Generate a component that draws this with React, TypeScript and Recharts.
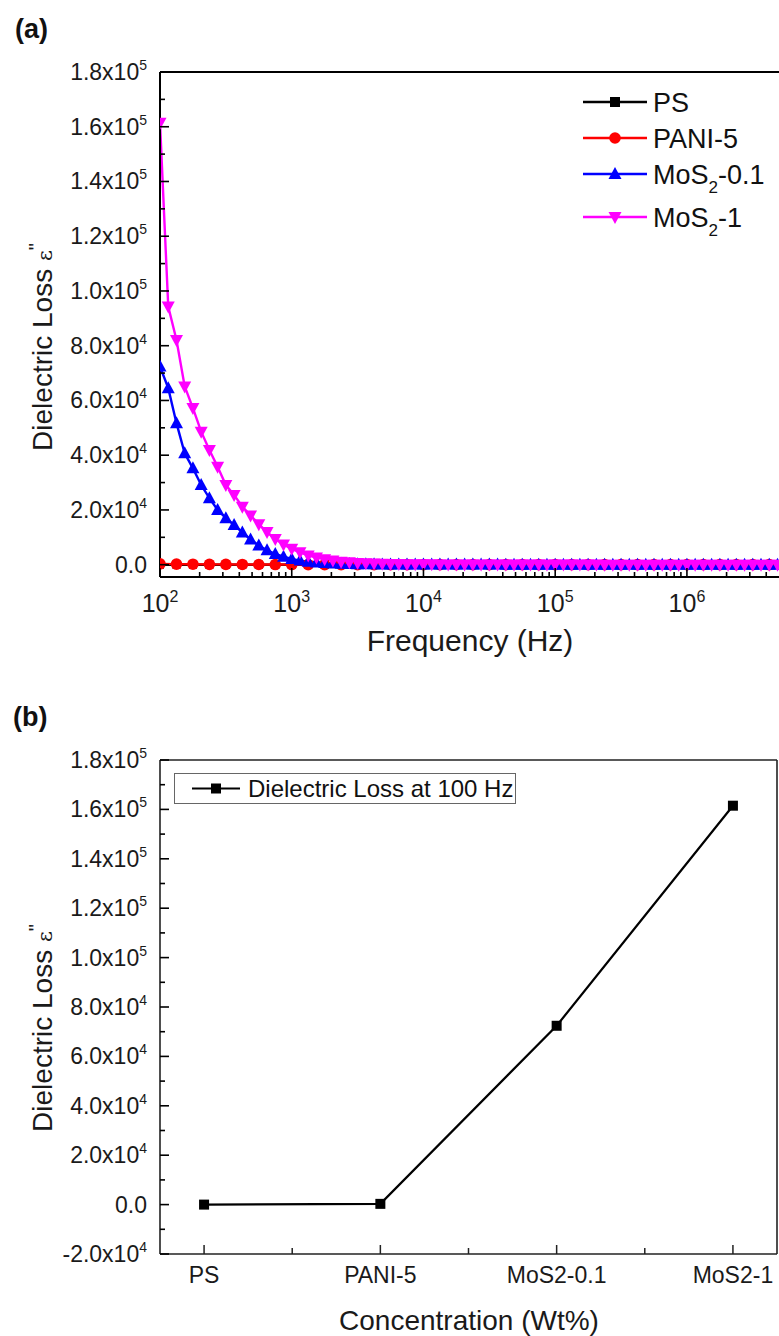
import React from 'react';
import { LineChart, Line, XAxis, YAxis, Legend } from 'recharts';

const FONT = 'Arial, "Liberation Sans", Helvetica, sans-serif';

// ---- (a) dielectric loss vs frequency ----
// 16 points per decade, 100 Hz .. ~4.9 MHz
const freqHz = [
  100, 115.5, 133.4, 154.0, 177.8, 205.4, 237.1, 273.8, 316.2, 365.2, 421.7, 487.0, 562.3, 649.4, 749.9, 866.0,
  1000, 1155, 1334, 1540, 1778, 2054, 2371, 2738, 3162, 3652, 4217, 4870, 5623, 6494, 7499, 8660,
  10000, 11548, 13335, 15399, 17783, 20535, 23714, 27384, 31623, 36517, 42170, 48697, 56234, 64938, 74989, 86596,
  100000, 115478, 133352, 153993, 177828, 205353, 237137, 273842, 316228, 365174, 421697, 486968, 562341, 649382, 749894, 865964,
  1000000, 1154782, 1333521, 1539927, 1778279, 2053525, 2371374, 2738420, 3162278, 3651741, 4216965, 4869675,
];

const mos2_01Loss = [
  72400, 64500, 51700, 40700, 35200, 29100, 24300, 20000, 17000, 14500, 11800, 9200, 7000, 5300, 3900, 2900,
  2100, 1500, 1100, 800, 600, 450, 340, 260, 200, 160, 130, 105, 88, 75, 64, 56,
  49, 44, 40, 36, 33, 30, 28, 26, 24, 22, 20, 19, 18, 17, 16, 15,
  14, 13, 12, 12, 11, 10, 10, 9, 9, 8, 8, 7, 7, 7, 6, 6,
  6, 5, 5, 5, 5, 4, 4, 4, 4, 3, 3, 3,
];

const mos2_1Loss = [
  161500, 94300, 82100, 65100, 57200, 48600, 41900, 35800, 29100, 25500, 21200, 18000, 14800, 11900, 9400, 7400,
  5800, 4500, 3400, 2600, 2000, 1500, 1100, 850, 650, 500, 400, 320, 260, 215, 180, 155,
  135, 120, 108, 97, 88, 80, 73, 67, 61, 56, 51, 47, 43, 40, 37, 34,
  32, 30, 28, 26, 24, 22, 21, 19, 18, 17, 16, 15, 14, 13, 12, 11,
  11, 10, 10, 9, 9, 8, 8, 7, 7, 6, 6, 5,
];

// PS / PANI-5 markers sit twice as far apart
const freqHzSparse = [
  100, 133.4, 177.8, 237.1, 316.2, 421.7, 562.3, 749.9,
  1000, 1334, 1778, 2371, 3162, 4217, 5623, 7499,
  10000, 13335, 17783, 23714, 31623, 42170, 56234, 74989,
  100000, 133352, 177828, 237137, 316228, 421697, 562341, 749894,
  1000000, 1333521, 1778279, 2371374, 3162278, 4216965,
];

const psLoss = [
  0, 0, 0, 0, 0, 0, 0, 0, 0, 0, 0, 0, 0, 0, 0, 0, 0, 0, 0,
  0, 0, 0, 0, 0, 0, 0, 0, 0, 0, 0, 0, 0, 0, 0, 0, 0, 0, 0,
];

const pani5Loss = [
  300, 220, 170, 130, 100, 80, 65, 55, 45, 38, 32, 28, 24, 21, 18, 16, 14, 12, 11,
  10, 9, 8, 7, 7, 6, 6, 5, 5, 5, 4, 4, 4, 4, 3, 3, 3, 3, 3,
];

const freqDecades = [100, 1000, 10000, 100000, 1000000];
const freqMinorSteps = [2, 3, 4, 5, 6, 7, 8, 9];
const lossTicksA = [
  0, 10000, 20000, 30000, 40000, 50000, 60000, 70000, 80000, 90000,
  100000, 110000, 120000, 130000, 140000, 150000, 160000, 170000, 180000,
];

// ---- (b) dielectric loss at 100 Hz ----
const concLabels = ['PS', 'PANI-5', 'MoS2-0.1', 'MoS2-1'];
const lossAt100Hz = [0, 300, 72400, 161500];
const concTicks = [1, 1.5, 2, 2.5, 3, 3.5, 4];
const lossTicksB = [
  -20000, -10000, 0, 10000, 20000, 30000, 40000, 50000, 60000, 70000, 80000, 90000,
  100000, 110000, 120000, 130000, 140000, 150000, 160000, 170000, 180000,
];

const freqTicks = freqDecades
  .flatMap((d) => [d, ...freqMinorSteps.map((m) => d * m)])
  .filter((v) => v < 5000000);

const seriesA = [
  { name: 'PS', sub: '', tail: '', color: '#000000', marker: 'square', data: freqHzSparse.map((f, i) => ({ f, v: psLoss[i] })) },
  { name: 'PANI-5', sub: '', tail: '', color: '#ff0000', marker: 'circle', data: freqHzSparse.map((f, i) => ({ f, v: pani5Loss[i] })) },
  { name: 'MoS', sub: '2', tail: '-0.1', color: '#0000ff', marker: 'up', data: freqHz.map((f, i) => ({ f, v: mos2_01Loss[i] })) },
  { name: 'MoS', sub: '2', tail: '-1', color: '#ff00ff', marker: 'down', data: freqHz.map((f, i) => ({ f, v: mos2_1Loss[i] })) },
];

const dataB = concLabels.map((c, i) => ({ x: i + 1, v: lossAt100Hz[i] }));

const markerShape = (kind: string, color: string, cx: number, cy: number, key?: any) => {
  if (kind === 'square') return <rect key={key} x={cx - 4} y={cy - 4} width={8} height={8} fill={color} />;
  if (kind === 'bigsquare') return <rect key={key} x={cx - 5} y={cy - 5} width={10} height={10} fill={color} />;
  if (kind === 'circle') return <circle key={key} cx={cx} cy={cy} r={5.8} fill={color} />;
  if (kind === 'up')
    return <polygon key={key} points={`${cx},${cy - 7} ${cx - 6.5},${cy + 5} ${cx + 6.5},${cy + 5}`} fill={color} />;
  return <polygon key={key} points={`${cx},${cy + 7} ${cx - 6.5},${cy - 5} ${cx + 6.5},${cy - 5}`} fill={color} />;
};

const dotFor = (kind: string, color: string) => (p: any) => {
  if (p.cx == null || p.cy == null || isNaN(p.cy)) return <g key={'n' + p.index} />;
  return markerShape(kind, color, p.cx, p.cy, 'd' + p.index);
};

const sciLabel = (v: number) => {
  if (v === 0) return { m: '0.0', e: '' };
  const e = Math.floor(Math.log10(Math.abs(v)));
  return { m: (v / Math.pow(10, e)).toFixed(1) + 'x10', e: String(e) };
};

const LossTick = (props: any) => {
  const { x, y, payload } = props;
  const v = payload.value;
  const major = v % 20000 === 0;
  const lab = sciLabel(v);
  return (
    <g>
      <line x1={x} x2={x + (major ? 9 : 5)} y1={y} y2={y} stroke="#000" strokeWidth={1.6} />
      {major && (
        <text x={x - 13} y={y + 8} textAnchor="end" fontSize={23} fontFamily={FONT} fill="#1a1a1a">
          {lab.m}
          {lab.e && (
            <tspan dy={-10} fontSize={14}>
              {lab.e}
            </tspan>
          )}
        </text>
      )}
    </g>
  );
};

const FreqTick = (props: any) => {
  const { x, y, payload } = props;
  const e = Math.log10(payload.value);
  const major = Math.abs(e - Math.round(e)) < 1e-9;
  return (
    <g>
      <line x1={x} x2={x} y1={y} y2={y - (major ? 9 : 5)} stroke="#000" strokeWidth={1.6} />
      {major && (
        <text x={x} y={y + 35} textAnchor="middle" fontSize={25} fontFamily={FONT} fill="#1a1a1a">
          10
          <tspan dy={-10} fontSize={16}>
            {Math.round(e)}
          </tspan>
        </text>
      )}
    </g>
  );
};

const ConcTick = (props: any) => {
  const { x, y, payload } = props;
  const v = payload.value;
  const major = Number.isInteger(v);
  return (
    <g>
      <line x1={x} x2={x} y1={y} y2={y - (major ? 9 : 6)} stroke="#222" strokeWidth={1.5} />
      {major && (
        <text x={x} y={y + 29} textAnchor="middle" fontSize={23} fontFamily={FONT} fill="#1a1a1a">
          {concLabels[v - 1]}
        </text>
      )}
    </g>
  );
};

const LegendA = () => (
  <svg width={204} height={150} style={{ display: 'block', overflow: 'visible' }}>
    {seriesA.map((s, i) => {
      const y = [17, 53, 89, 132][i];
      return (
        <g key={s.name + i}>
          <line x1={8} x2={72} y1={y} y2={y} stroke={s.color} strokeWidth={2.4} />
          {markerShape(s.marker === 'square' ? 'bigsquare' : s.marker, s.color, 40, y)}
          <text x={78} y={y + 10} fontSize={27} fontFamily={FONT} fill="#111">
            {s.name}
            {s.sub && (
              <tspan dy={9} fontSize={17}>
                {s.sub}
              </tspan>
            )}
            {s.tail && <tspan dy={s.sub ? -9 : 0}>{s.tail}</tspan>}
          </text>
        </g>
      );
    })}
  </svg>
);

const LegendB = () => (
  <svg width={343} height={32} style={{ display: 'block' }}>
    <rect x={0.5} y={0.5} width={341} height={30} fill="#fff" stroke="#666" strokeWidth={1} />
    <line x1={18} x2={66} y1={15.5} y2={15.5} stroke="#000" strokeWidth={2} />
    {markerShape('bigsquare', '#000', 42, 15.5)}
    <text x={74} y={24} fontSize={24} fontFamily={FONT} fill="#111">
      Dielectric Loss at 100 Hz
    </text>
  </svg>
);

const YTitle = ({ x, y }: { x: number; y: number }) => (
  <text x={x} y={y} transform={`rotate(-90 ${x} ${y})`} textAnchor="middle" fontSize={28} fontFamily={FONT} fill="#1a1a1a">
    Dielectric Loss{' '}
    <tspan fontSize={21} fontFamily={'"DejaVu Serif", serif'}>
      ε
    </tspan>
    <tspan dy={-9} fontSize={20}>
      "
    </tspan>
  </text>
);

export default function App() {
  return (
    <div style={{ position: 'absolute', left: 0, top: 0, width: 779, height: 1336, background: '#fff', overflow: 'hidden' }}>
      <div style={{ position: 'absolute', left: 0, top: 0 }}>
        <LineChart width={779} height={680} margin={{ top: 71, right: 0, bottom: 102, left: 159 }}>
          <XAxis
            dataKey="f"
            type="number"
            scale="log"
            domain={[100, 5000000]}
            allowDataOverflow
            ticks={freqTicks}
            interval={0}
            height={1}
            tickSize={0}
            tickMargin={0}
            tickLine={false}
            tick={<FreqTick />}
            axisLine={{ stroke: '#000', strokeWidth: 2 }}
          />
          <XAxis
            xAxisId="top"
            orientation="top"
            dataKey="f"
            type="number"
            scale="log"
            domain={[100, 5000000]}
            allowDataOverflow
            height={1}
            tick={false}
            tickLine={false}
            axisLine={{ stroke: '#000', strokeWidth: 2 }}
          />
          <YAxis
            dataKey="v"
            type="number"
            domain={[-4500, 180000]}
            allowDataOverflow
            ticks={lossTicksA}
            interval={0}
            width={1}
            tickSize={0}
            tickMargin={0}
            tickLine={false}
            tick={<LossTick />}
            axisLine={{ stroke: '#000', strokeWidth: 2 }}
          />
          {seriesA.map((s, i) => (
            <Line
              key={s.name + i}
              data={s.data}
              dataKey="v"
              type="linear"
              stroke={s.color}
              strokeWidth={2.4}
              dot={dotFor(s.marker, s.color)}
              activeDot={false}
              isAnimationActive={false}
            />
          ))}
          <Legend
            layout="horizontal"
            verticalAlign="middle"
            align="center"
            content={() => <LegendA />}
            wrapperStyle={{ left: 575, top: 85, width: 204, height: 150 }}
          />
        </LineChart>
      </div>

      <div style={{ position: 'absolute', left: 0, top: 680 }}>
        <LineChart width={779} height={656} data={dataB} margin={{ top: 79, right: 1, bottom: 81, left: 159 }}>
          <XAxis
            dataKey="x"
            type="number"
            domain={[0.75, 4.25]}
            allowDataOverflow
            ticks={concTicks}
            interval={0}
            height={1}
            tickSize={0}
            tickMargin={0}
            tickLine={false}
            tick={<ConcTick />}
            axisLine={{ stroke: '#222', strokeWidth: 1.6 }}
          />
          <XAxis
            xAxisId="top"
            orientation="top"
            dataKey="x"
            type="number"
            domain={[0.75, 4.25]}
            allowDataOverflow
            height={1}
            tick={false}
            tickLine={false}
            axisLine={{ stroke: '#222', strokeWidth: 1.6 }}
          />
          <YAxis
            dataKey="v"
            type="number"
            domain={[-20000, 180000]}
            allowDataOverflow
            ticks={lossTicksB}
            interval={0}
            width={1}
            tickSize={0}
            tickMargin={0}
            tickLine={false}
            tick={<LossTick />}
            axisLine={{ stroke: '#222', strokeWidth: 1.6 }}
          />
          <YAxis
            yAxisId="right"
            orientation="right"
            type="number"
            domain={[-20000, 180000]}
            width={1}
            tick={false}
            tickLine={false}
            axisLine={{ stroke: '#222', strokeWidth: 1.6 }}
          />
          <Line
            dataKey="v"
            type="linear"
            stroke="#000"
            strokeWidth={2.2}
            dot={dotFor('bigsquare', '#000')}
            activeDot={false}
            isAnimationActive={false}
          />
          <Legend
            layout="horizontal"
            verticalAlign="middle"
            align="center"
            content={() => <LegendB />}
            wrapperStyle={{ left: 174, top: 93, width: 343, height: 32 }}
          />
        </LineChart>
      </div>

      <svg width={779} height={1336} style={{ position: 'absolute', left: 0, top: 0, pointerEvents: 'none' }}>
        <text x={15} y={38} fontSize={27} fontWeight="bold" fontFamily={FONT} fill="#111">
          (a)
        </text>
        <text x={13} y={726} fontSize={27} fontWeight="bold" fontFamily={FONT} fill="#111">
          (b)
        </text>
        <YTitle x={52} y={347} />
        <YTitle x={52} y={1028} />
        <text x={470} y={651} textAnchor="middle" fontSize={30} fontFamily={FONT} fill="#1a1a1a">
          Frequency (Hz)
        </text>
        <text x={469} y={1330} textAnchor="middle" fontSize={28} fontFamily={FONT} fill="#1a1a1a">
          Concentration (Wt%)
        </text>
      </svg>
    </div>
  );
}
